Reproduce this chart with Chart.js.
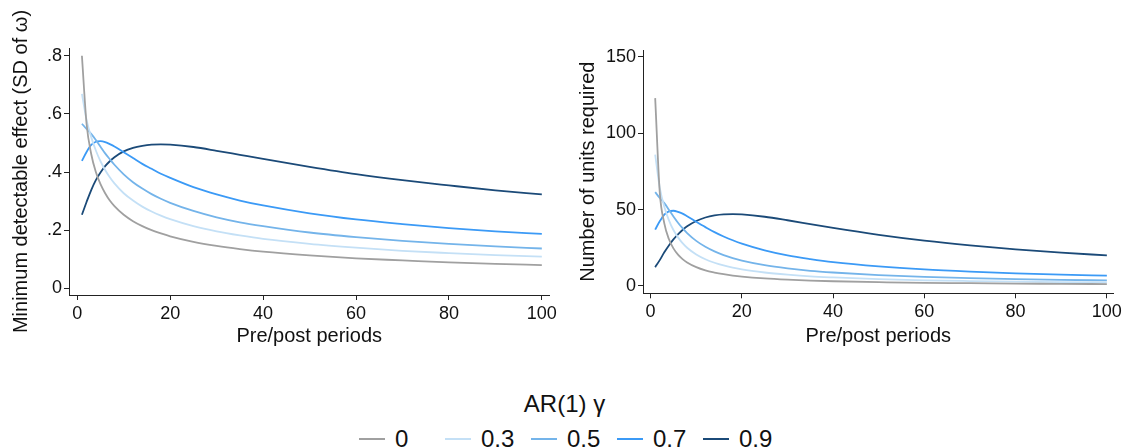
<!DOCTYPE html>
<html>
<head>
<meta charset="utf-8">
<script src="https://cdn.jsdelivr.net/npm/chart.js@4.4.1/dist/chart.umd.min.js"></script>
<style>
  html, body { margin: 0; padding: 0; background: #fff; }
  body { width: 1125px; height: 448px; position: relative; overflow: hidden; font-family: 'Liberation Sans', Arial, sans-serif; }
  #mde-wrap { position: absolute; left: 0; top: 0; width: 560px; height: 348px; }
  #units-wrap { position: absolute; left: 560px; top: 0; width: 565px; height: 348px; }
  #legend-title { position: absolute; left: 0; width: 1125px; top: 390px; text-align: center; font-size: 24px; color: #111; padding-left: 2px; }
  #legend-items { position: absolute; left: 359px; top: 424px; height: 30px; white-space: nowrap; }
  .lg-item { display: inline-block; width: 86px; height: 30px; position: relative; }
  .lg-key { position: absolute; left: 0; top: 14px; width: 26px; height: 2px; }
  .lg-label { position: absolute; left: 36px; top: 0; font-size: 24px; line-height: 30px; color: #111; }
</style>
</head>
<body>
<div id="mde-wrap"><canvas id="mdeChart" width="560" height="348"></canvas></div>
<div id="units-wrap"><canvas id="unitsChart" width="565" height="348"></canvas></div>
<div id="legend-title">AR(1) γ</div>
<div id="legend-items"></div>

<script>
// Pre/post periods sampled along the x axis
const periods = [1, 2, 3, 4, 5, 6, 7, 8, 10, 12, 14, 16, 18, 20, 25, 30, 35, 40, 50, 60, 70, 80, 90, 100];

// Minimum detectable effect (SD of omega), one list per AR(1) gamma
const mde00 = [0.800, 0.566, 0.462, 0.400, 0.358, 0.327, 0.302, 0.283, 0.253, 0.231, 0.214, 0.200, 0.189, 0.179, 0.160, 0.146, 0.135, 0.126, 0.113, 0.103, 0.096, 0.089, 0.084, 0.080];
const mde03 = [0.669, 0.579, 0.520, 0.474, 0.437, 0.407, 0.382, 0.361, 0.327, 0.302, 0.281, 0.264, 0.250, 0.238, 0.214, 0.196, 0.182, 0.170, 0.153, 0.140, 0.129, 0.121, 0.114, 0.109];
const mde05 = [0.566, 0.548, 0.531, 0.510, 0.487, 0.464, 0.444, 0.425, 0.392, 0.365, 0.343, 0.324, 0.308, 0.294, 0.266, 0.244, 0.227, 0.214, 0.192, 0.176, 0.163, 0.153, 0.144, 0.137];
const mde07 = [0.438, 0.469, 0.493, 0.504, 0.506, 0.503, 0.496, 0.488, 0.468, 0.448, 0.428, 0.411, 0.394, 0.380, 0.348, 0.323, 0.302, 0.285, 0.258, 0.237, 0.221, 0.207, 0.196, 0.187];
const mde09 = [0.253, 0.297, 0.338, 0.372, 0.398, 0.420, 0.437, 0.451, 0.471, 0.483, 0.490, 0.494, 0.495, 0.494, 0.486, 0.473, 0.459, 0.445, 0.418, 0.393, 0.372, 0.354, 0.337, 0.323];

// Number of units required
const units00 = [122.9, 61.4, 41.0, 30.7, 24.6, 20.5, 17.6, 15.4, 12.3, 10.2, 8.8, 7.7, 6.8, 6.1, 4.9, 4.1, 3.5, 3.1, 2.5, 2.0, 1.8, 1.5, 1.4, 1.2];
const units03 = [86.0, 64.3, 51.9, 43.1, 36.6, 31.8, 28.0, 25.0, 20.6, 17.5, 15.2, 13.4, 12.0, 10.8, 8.8, 7.4, 6.3, 5.6, 4.5, 3.7, 3.2, 2.8, 2.5, 2.3];
const units05 = [61.4, 57.6, 54.2, 49.9, 45.5, 41.4, 37.8, 34.6, 29.5, 25.6, 22.6, 20.2, 18.2, 16.6, 13.6, 11.5, 9.9, 8.8, 7.1, 5.9, 5.1, 4.5, 4.0, 3.6];
const units07 = [36.9, 42.3, 46.7, 48.8, 49.2, 48.5, 47.3, 45.6, 42.0, 38.5, 35.2, 32.4, 29.9, 27.7, 23.3, 20.0, 17.6, 15.6, 12.8, 10.8, 9.4, 8.3, 7.4, 6.7];
const units09 = [12.3, 16.9, 22.0, 26.5, 30.5, 33.8, 36.6, 39.0, 42.5, 44.8, 46.2, 46.9, 47.0, 46.8, 45.3, 43.0, 40.5, 38.0, 33.5, 29.7, 26.6, 24.0, 21.8, 20.0];

const gammaLabels = ['0', '0.3', '0.5', '0.7', '0.9'];
const gammaColors = ['#a0a0a0', '#c4e0f6', '#74b4ea', '#3b9af6', '#1b4a78'];

const xTicks = [0, 20, 40, 60, 80, 100];
const mdeTicks = [0, 0.2, 0.4, 0.6, 0.8];
const unitsTicks = [0, 50, 100, 150];

document.addEventListener('DOMContentLoaded', () => {
  buildChart('mdeChart', [mde00, mde03, mde05, mde07, mde09], {
    yTitle: 'Minimum detectable effect (SD of ω)',
    yTicks: mdeTicks, yMin: -0.023, yMax: 0.8265,
    xMin: -1.78, xMax: 101.65,
    yWidth: 69, xHeight: 53, titlePad: 9,
    padding: { top: 48, right: 10, left: 0, bottom: 0 },
    fmt: v => v === 0 ? '0' : String(v.toFixed(1)).replace(/^0/, '')
  });
  buildChart('unitsChart', [units00, units03, units05, units07, units09], {
    yTitle: 'Number of units required',
    yTicks: unitsTicks, yMin: -4.8, yMax: 154.4,
    xMin: -1.67, xMax: 101.45,
    yWidth: 83, xHeight: 54.7, titlePad: 16.5,
    padding: { top: 50, right: 8.3, left: 0, bottom: 0 },
    fmt: v => String(v)
  });
  buildLegend();
});

function buildChart(id, seriesList, cfg) {
  const ctx = document.getElementById(id);
  const datasets = seriesList.map((vals, i) => ({
    label: gammaLabels[i],
    data: periods.map((t, k) => ({ x: t, y: vals[k] })),
    borderColor: gammaColors[i],
    borderWidth: 1.8,
    pointRadius: 0,
    fill: false,
    cubicInterpolationMode: 'monotone'
  }));

  const axisFont = { family: "'Liberation Sans', Arial, sans-serif", size: 18 };
  const titleFont = { family: "'Liberation Sans', Arial, sans-serif", size: 20 };

  new Chart(ctx, {
    type: 'line',
    data: { datasets },
    options: {
      responsive: false,
      animation: false,
      layout: { padding: cfg.padding },
      plugins: { legend: { display: false }, tooltip: { enabled: false } },
      scales: {
        x: {
          type: 'linear',
          min: cfg.xMin, max: cfg.xMax,
          afterBuildTicks: s => { s.ticks = xTicks.map(v => ({ value: v })); },
          afterFit: s => { s.height = cfg.xHeight; },
          ticks: { color: '#111', font: axisFont, padding: 3, maxRotation: 0, callback: v => String(v) },
          grid: { drawOnChartArea: false, drawTicks: true, tickLength: 5, color: '#222' },
          border: { display: true, color: '#222', width: 1 },
          title: { display: true, text: 'Pre/post periods', color: '#111', font: titleFont, padding: { top: 0, bottom: 0 } }
        },
        y: {
          type: 'linear',
          min: cfg.yMin, max: cfg.yMax,
          afterBuildTicks: s => { s.ticks = cfg.yTicks.map(v => ({ value: v })); },
          afterFit: s => { s.width = cfg.yWidth; },
          ticks: { color: '#111', font: axisFont, padding: 2, callback: cfg.fmt },
          grid: { drawOnChartArea: false, drawTicks: true, tickLength: 5, color: '#222' },
          border: { display: true, color: '#222', width: 1 },
          title: { display: true, text: cfg.yTitle, color: '#111', font: titleFont, padding: { top: cfg.titlePad, bottom: 0 } }
        }
      }
    }
  });
}

// Shared legend under both panels
function buildLegend() {
  const box = document.getElementById('legend-items');
  gammaLabels.forEach((lab, i) => {
    const item = document.createElement('span');
    item.className = 'lg-item';
    item.innerHTML = `<span class="lg-key" style="background:${gammaColors[i]}"></span><span class="lg-label">${lab}</span>`;
    box.appendChild(item);
  });
}
</script>
</body>
</html>
